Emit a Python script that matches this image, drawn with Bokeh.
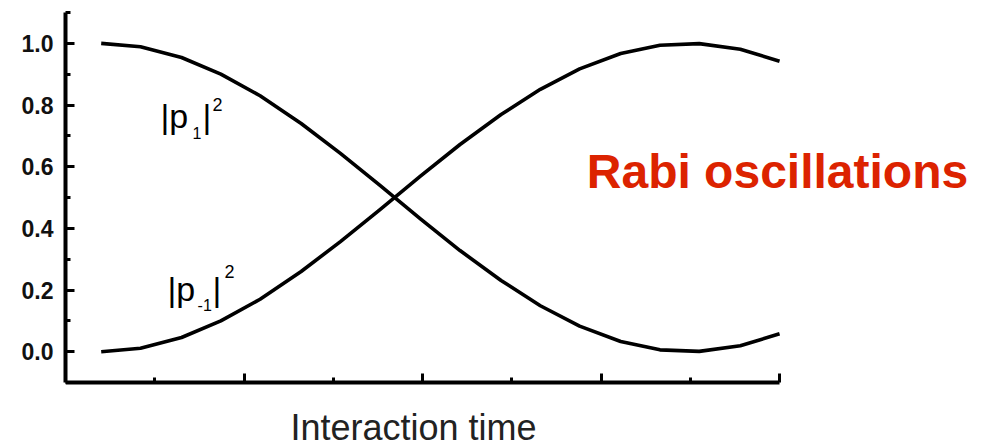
from bokeh.plotting import figure
from bokeh.models import FixedTicker, Label, Range1d, PrintfTickFormatter
from bokeh.embed import file_html
from bokeh.resources import INLINE

# Interaction time (arbitrary units) at which the populations were sampled
t = [0.20, 0.42, 0.65, 0.87, 1.09, 1.32, 1.54, 1.76, 1.99,
     2.21, 2.44, 2.66, 2.88, 3.11, 3.33, 3.55, 3.78, 4.00]

# Population of the |p_1> momentum state
p1 = [1.000, 0.989, 0.954, 0.900, 0.830, 0.740, 0.643, 0.540, 0.430,
      0.328, 0.231, 0.149, 0.083, 0.033, 0.006, 0.001, 0.019, 0.058]

# Population of the |p_-1> momentum state
pm1 = [0.000, 0.011, 0.046, 0.100, 0.170, 0.260, 0.357, 0.460, 0.570,
       0.672, 0.769, 0.851, 0.917, 0.967, 0.994, 0.999, 0.981, 0.942]

y_major = [0.0, 0.2, 0.4, 0.6, 0.8, 1.0]
y_minor = [-0.1, 0.1, 0.3, 0.5, 0.7, 0.9, 1.1]
x_major = [0, 1, 2, 3, 4]
x_minor = [0.5, 1.5, 2.5, 3.5]

# The frame runs to the right and bottom edges so the annotations beside and
# below the axes are not clipped; the axes themselves are bounded.
p = figure(width=984, height=448, output_backend="svg", toolbar_location=None,
           x_range=Range1d(0, 5.148), y_range=Range1d(-0.314, 1.1),
           min_border_left=65, min_border_right=0,
           min_border_top=12, min_border_bottom=0)
p.outline_line_color = None
p.grid.visible = False
p.background_fill_color = "white"
p.border_fill_color = "white"

p.line(t, p1, line_color="black", line_width=3.6, line_join="round")
p.line(t, pm1, line_color="black", line_width=3.6, line_join="round")

for ax in (p.xaxis[0], p.yaxis[0]):
    ax.axis_line_width = 4
    ax.axis_line_color = "black"
    ax.major_tick_in = 9
    ax.major_tick_out = 0
    ax.minor_tick_in = 5
    ax.minor_tick_out = 0
    ax.major_tick_line_width = 3
    ax.minor_tick_line_width = 3
    ax.major_tick_line_color = "black"
    ax.minor_tick_line_color = "black"

p.yaxis.bounds = (-0.1, 1.1)
p.yaxis.ticker = FixedTicker(ticks=y_major, minor_ticks=y_minor)
p.yaxis.formatter = PrintfTickFormatter(format="%.1f")
p.yaxis.major_label_text_font = "Liberation Sans"
p.yaxis.major_label_text_font_style = "bold"
p.yaxis.major_label_text_font_size = "23px"
p.yaxis.major_label_text_color = "#111111"
p.yaxis.major_label_standoff = 12

p.xaxis.fixed_location = -0.1
p.xaxis.bounds = (0, 4)
p.xaxis.ticker = FixedTicker(ticks=x_major, minor_ticks=x_minor)
p.xaxis.major_label_text_font_size = "0px"
p.xaxis.major_label_standoff = 0


def add_text(x, y, text, size, style="normal", color="black"):
    p.add_layout(Label(x=x, y=y, text=text, text_font="Liberation Sans",
                       text_font_size=size, text_font_style=style,
                       text_color=color, text_baseline="alphabetic",
                       text_align="left"))


# |p_1|^2 curve label
add_text(0.532, 0.765, "|p", "34px")
add_text(0.712, 0.709, "1", "16px")
add_text(0.768, 0.765, "|", "34px")
add_text(0.824, 0.801, "2", "18px")

# |p_-1|^2 curve label
add_text(0.571, 0.204, "|p", "34px")
add_text(0.740, 0.151, "-1", "16px")
add_text(0.824, 0.204, "|", "34px")
add_text(0.891, 0.259, "2", "18px")

add_text(2.92, 0.583, "Rabi oscillations", "48px", "bold", "#dc2300")
add_text(1.26, -0.247, "Interaction time", "36px", "normal", "#222222")

open("out.html", "w").write(file_html(p, INLINE))
